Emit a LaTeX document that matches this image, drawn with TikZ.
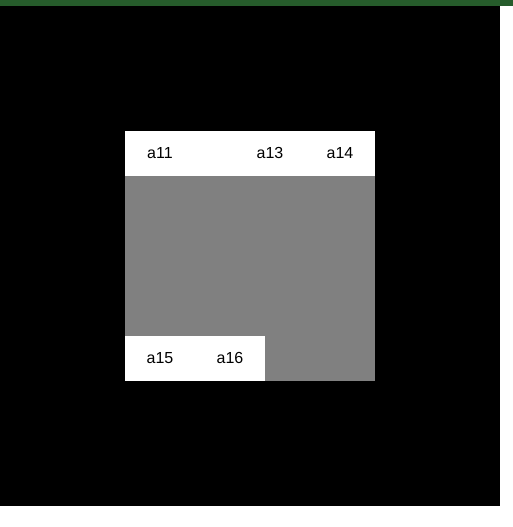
\documentclass[tikz,border=0pt]{standalone}
\usepackage{fontspec}
\setmainfont{Liberation Sans}
\definecolor{topgreen}{HTML}{265C2B}
\definecolor{midgray}{HTML}{808080}
\tikzset{
  lbl/.style={inner sep=0pt, font=\fontsize{16}{19}\selectfont, text=black},
  band/.style={fill=white, draw=none}
}
\begin{document}
\begin{tikzpicture}[x=1pt,y=-1pt]
\useasboundingbox (0,0) rectangle (513,527);
\fill[white] (0,0) rectangle (513,527);
\fill[topgreen] (0,0) rectangle (513,6);
\fill[black] (0,6) rectangle (500,506);
\fill[midgray] (125,131) rectangle (375,381);
\path[band] (125,131) rectangle (375,176);
\path[band] (125,336) rectangle (265,381);
\node[lbl] (a11) at (160,153) {a11};
\node[lbl] (a13) at (270,153) {a13};
\node[lbl] (a14) at (340,153) {a14};
\node[lbl] (a15) at (160,358) {a15};
\node[lbl] (a16) at (230,358) {a16};
\end{tikzpicture}
\end{document}
